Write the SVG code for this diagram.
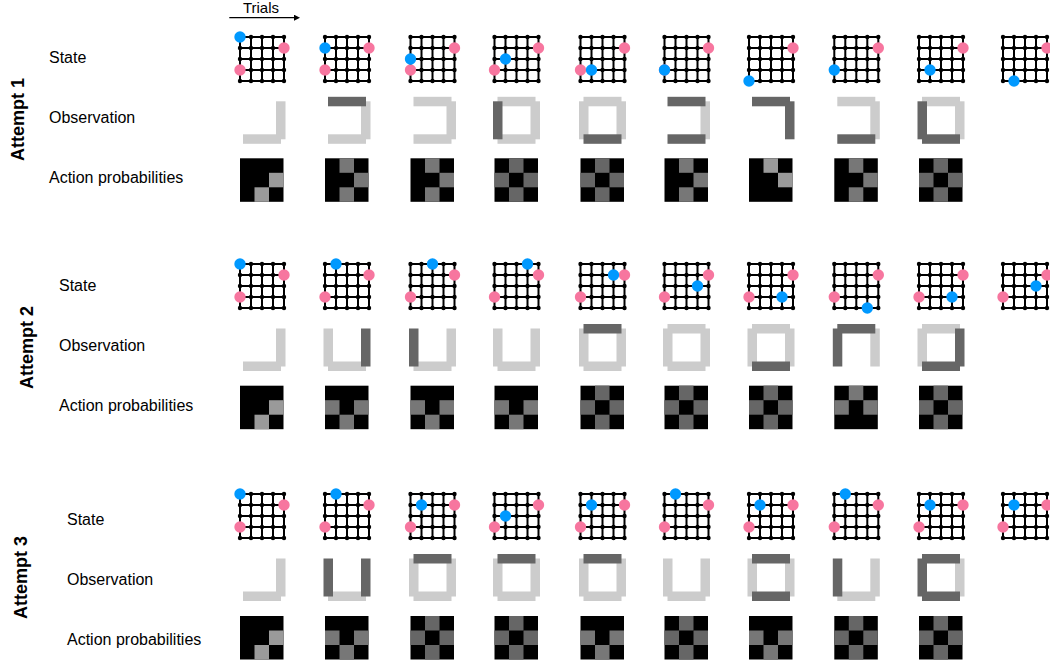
<svg xmlns="http://www.w3.org/2000/svg" xmlns:xlink="http://www.w3.org/1999/xlink" width="1050" height="669" viewBox="0 0 1050 669">
<style>
text{font-family:"Liberation Sans",Arial,sans-serif;fill:#000}
.lbl{font-size:16px}
.att{font-size:18px;font-weight:bold}
.b{fill:#0099ff}
.p{fill:#f7769f}
.ol{fill:#cccccc}
.od{fill:#666666}
.g2{fill:#9a9a9a}
.g3{fill:#777777}
.g4{fill:#666666}
</style>
<defs>
<marker id="arr" markerUnits="userSpaceOnUse" markerWidth="7" markerHeight="7" refX="0" refY="3" orient="auto"><path d="M0,0 L6,3 L0,6 z" fill="#000"/></marker>
<g id="lat">
<path d="M0 0H44M0 11H44M0 22H44M0 33H44M0 44H44M0 0V44M11 0V44M22 0V44M33 0V44M44 0V44" stroke="#000" stroke-width="2" fill="none"/>
<g fill="#000">
<circle cx="0" cy="0" r="2.2"/><circle cx="11" cy="0" r="2.2"/><circle cx="22" cy="0" r="2.2"/><circle cx="33" cy="0" r="2.2"/><circle cx="44" cy="0" r="2.2"/>
<circle cx="0" cy="11" r="2.2"/><circle cx="11" cy="11" r="2.2"/><circle cx="22" cy="11" r="2.2"/><circle cx="33" cy="11" r="2.2"/><circle cx="44" cy="11" r="2.2"/>
<circle cx="0" cy="22" r="2.2"/><circle cx="11" cy="22" r="2.2"/><circle cx="22" cy="22" r="2.2"/><circle cx="33" cy="22" r="2.2"/><circle cx="44" cy="22" r="2.2"/>
<circle cx="0" cy="33" r="2.2"/><circle cx="11" cy="33" r="2.2"/><circle cx="22" cy="33" r="2.2"/><circle cx="33" cy="33" r="2.2"/><circle cx="44" cy="33" r="2.2"/>
<circle cx="0" cy="44" r="2.2"/><circle cx="11" cy="44" r="2.2"/><circle cx="22" cy="44" r="2.2"/><circle cx="33" cy="44" r="2.2"/><circle cx="44" cy="44" r="2.2"/>
</g>
</g>
<g id="st2"><use xlink:href="#lat"/><circle class="p" cx="44" cy="11" r="5.7"/><circle class="p" cx="0" cy="33" r="5.7"/></g>
<g id="st1"><use xlink:href="#lat"/><circle class="p" cx="44" cy="11" r="5.7"/></g>
<rect id="bT" x="-19" y="-23.5" width="38" height="9.5"/>
<rect id="bB" x="-19" y="14" width="38" height="9.5"/>
<rect id="bL" x="-23.5" y="-19" width="9.5" height="38"/>
<rect id="bR" x="14" y="-19" width="9.5" height="38"/>
<rect id="ablk" width="43.5" height="43.5" fill="#000"/>
<g id="aCorner"><use xlink:href="#ablk"/><rect class="g2" x="29" y="14.5" width="14.5" height="14.5"/><rect class="g2" x="14.5" y="29" width="14.5" height="14.5"/></g>
<g id="aK"><use xlink:href="#ablk"/><rect class="g3" x="14.5" y="0" width="14.5" height="14.5"/><rect class="g3" x="29" y="14.5" width="14.5" height="14.5"/><rect class="g3" x="14.5" y="29" width="14.5" height="14.5"/></g>
<g id="aChk"><use xlink:href="#ablk"/><rect class="g4" x="14.5" y="0" width="14.5" height="14.5"/><rect class="g4" x="0" y="14.5" width="14.5" height="14.5"/><rect class="g4" x="29" y="14.5" width="14.5" height="14.5"/><rect class="g4" x="14.5" y="29" width="14.5" height="14.5"/></g>
<g id="aK2"><use xlink:href="#ablk"/><rect class="g2" x="14.5" y="0" width="14.5" height="14.5"/><rect class="g2" x="29" y="14.5" width="14.5" height="14.5"/></g>
<g id="aT"><use xlink:href="#ablk"/><rect class="g3" x="0" y="14.5" width="14.5" height="14.5"/><rect class="g3" x="29" y="14.5" width="14.5" height="14.5"/><rect class="g3" x="14.5" y="29" width="14.5" height="14.5"/></g>
<g id="aN"><use xlink:href="#ablk"/><rect class="g3" x="14.5" y="0" width="14.5" height="14.5"/><rect class="g3" x="0" y="14.5" width="14.5" height="14.5"/><rect class="g3" x="29" y="14.5" width="14.5" height="14.5"/></g>
</defs>
<rect width="1050" height="669" fill="#fff"/>

<g id="connectors">
<line x1="229.3" y1="17.7" x2="294" y2="17.7" stroke="#000" stroke-width="1.3" marker-end="url(#arr)"/>
</g>
<g id="trials-label"><text x="261" y="13" font-size="15" text-anchor="middle">Trials</text></g>

<g id="labels">
<text class="att" transform="translate(24,119.5) rotate(-90)" text-anchor="middle">Attempt 1</text>
<text class="lbl" x="49" y="63">State</text>
<text class="lbl" x="49" y="123">Observation</text>
<text class="lbl" x="49" y="183">Action probabilities</text>
<text class="att" transform="translate(33,347.5) rotate(-90)" text-anchor="middle">Attempt 2</text>
<text class="lbl" x="59" y="291">State</text>
<text class="lbl" x="59" y="351">Observation</text>
<text class="lbl" x="59" y="411">Action probabilities</text>
<text class="att" transform="translate(27,577.5) rotate(-90)" text-anchor="middle">Attempt 3</text>
<text class="lbl" x="67" y="525">State</text>
<text class="lbl" x="67" y="585">Observation</text>
<text class="lbl" x="67" y="645">Action probabilities</text>
</g>

<!-- Attempt 1 states -->
<g id="a1-state">
<g id="a1-s1" transform="translate(240,37)"><use xlink:href="#st2"/><circle class="b" cx="0" cy="0" r="5.7"/></g>
<g id="a1-s2" transform="translate(325,37)"><use xlink:href="#st2"/><circle class="b" cx="0" cy="11" r="5.7"/></g>
<g id="a1-s3" transform="translate(410.5,37)"><use xlink:href="#st2"/><circle class="b" cx="0" cy="22" r="5.7"/></g>
<g id="a1-s4" transform="translate(494.5,37)"><use xlink:href="#st2"/><circle class="b" cx="11" cy="22" r="5.7"/></g>
<g id="a1-s5" transform="translate(580.5,37)"><use xlink:href="#st2"/><circle class="b" cx="11" cy="33" r="5.7"/></g>
<g id="a1-s6" transform="translate(664.5,37)"><use xlink:href="#st2"/><circle class="b" cx="0" cy="33" r="5.7"/></g>
<g id="a1-s7" transform="translate(749,37)"><use xlink:href="#st1"/><circle class="b" cx="0" cy="44" r="5.7"/></g>
<g id="a1-s8" transform="translate(834.3,37)"><use xlink:href="#st1"/><circle class="b" cx="0" cy="33" r="5.7"/></g>
<g id="a1-s9" transform="translate(919,37)"><use xlink:href="#st1"/><circle class="b" cx="11" cy="33" r="5.7"/></g>
<g id="a1-s10" transform="translate(1003,37)"><use xlink:href="#st1"/><circle class="b" cx="11" cy="44" r="5.7"/></g>
</g>
<!-- Attempt 1 observations -->
<g id="a1-obs">
<g id="a1-o1" transform="translate(262,120.3)"><use xlink:href="#bR" class="ol"/><use xlink:href="#bB" class="ol"/></g>
<g id="a1-o2" transform="translate(347,120.3)"><use xlink:href="#bR" class="ol"/><use xlink:href="#bB" class="ol"/><use xlink:href="#bT" class="od"/></g>
<g id="a1-o3" transform="translate(432.5,120.3)"><use xlink:href="#bT" class="ol"/><use xlink:href="#bR" class="ol"/><use xlink:href="#bB" class="ol"/></g>
<g id="a1-o4" transform="translate(516.5,120.3)"><use xlink:href="#bT" class="ol"/><use xlink:href="#bR" class="ol"/><use xlink:href="#bB" class="ol"/><use xlink:href="#bL" class="od"/></g>
<g id="a1-o5" transform="translate(602.5,120.3)"><use xlink:href="#bT" class="ol"/><use xlink:href="#bR" class="ol"/><use xlink:href="#bL" class="ol"/><use xlink:href="#bB" class="od"/></g>
<g id="a1-o6" transform="translate(686.5,120.3)"><use xlink:href="#bR" class="ol"/><use xlink:href="#bT" class="od"/><use xlink:href="#bB" class="od"/></g>
<g id="a1-o7" transform="translate(771,120.3)"><use xlink:href="#bT" class="od"/><use xlink:href="#bR" class="od"/></g>
<g id="a1-o8" transform="translate(856.3,120.3)"><use xlink:href="#bT" class="ol"/><use xlink:href="#bR" class="ol"/><use xlink:href="#bB" class="od"/></g>
<g id="a1-o9" transform="translate(941,120.3)"><use xlink:href="#bT" class="ol"/><use xlink:href="#bR" class="ol"/><use xlink:href="#bB" class="od"/><use xlink:href="#bL" class="od"/></g>
</g>
<!-- Attempt 1 actions -->
<g id="a1-act">
<g id="a1-a1" transform="translate(240,158.3)"><use xlink:href="#aCorner"/></g>
<g id="a1-a2" transform="translate(325,158.3)"><use xlink:href="#aK"/></g>
<g id="a1-a3" transform="translate(410.5,158.3)"><use xlink:href="#aK"/></g>
<g id="a1-a4" transform="translate(494.5,158.3)"><use xlink:href="#aChk"/></g>
<g id="a1-a5" transform="translate(580.5,158.3)"><use xlink:href="#aChk"/></g>
<g id="a1-a6" transform="translate(664.5,158.3)"><use xlink:href="#aK"/></g>
<g id="a1-a7" transform="translate(749,158.3)"><use xlink:href="#aK2"/></g>
<g id="a1-a8" transform="translate(834.3,158.3)"><use xlink:href="#aK"/></g>
<g id="a1-a9" transform="translate(919,158.3)"><use xlink:href="#aChk"/></g>
</g>

<!-- Attempt 2 states -->
<g id="a2-state">
<g id="a2-s1" transform="translate(240,264)"><use xlink:href="#st2"/><circle class="b" cx="0" cy="0" r="5.7"/></g>
<g id="a2-s2" transform="translate(325,264)"><use xlink:href="#st2"/><circle class="b" cx="11" cy="0" r="5.7"/></g>
<g id="a2-s3" transform="translate(410.5,264)"><use xlink:href="#st2"/><circle class="b" cx="22" cy="0" r="5.7"/></g>
<g id="a2-s4" transform="translate(494.5,264)"><use xlink:href="#st2"/><circle class="b" cx="33" cy="0" r="5.7"/></g>
<g id="a2-s5" transform="translate(580.5,264)"><use xlink:href="#st2"/><circle class="b" cx="33" cy="11" r="5.7"/></g>
<g id="a2-s6" transform="translate(664.5,264)"><use xlink:href="#st2"/><circle class="b" cx="33" cy="22" r="5.7"/></g>
<g id="a2-s7" transform="translate(749,264)"><use xlink:href="#st2"/><circle class="b" cx="33" cy="33" r="5.7"/></g>
<g id="a2-s8" transform="translate(834.3,264)"><use xlink:href="#st2"/><circle class="b" cx="33" cy="44" r="5.7"/></g>
<g id="a2-s9" transform="translate(919,264)"><use xlink:href="#st2"/><circle class="b" cx="33" cy="33" r="5.7"/></g>
<g id="a2-s10" transform="translate(1003,264)"><use xlink:href="#st2"/><circle class="b" cx="33" cy="22" r="5.7"/></g>
</g>
<!-- Attempt 2 observations -->
<g id="a2-obs">
<g id="a2-o1" transform="translate(262,347.5)"><use xlink:href="#bR" class="ol"/><use xlink:href="#bB" class="ol"/></g>
<g id="a2-o2" transform="translate(347,347.5)"><use xlink:href="#bL" class="ol"/><use xlink:href="#bB" class="ol"/><use xlink:href="#bR" class="od"/></g>
<g id="a2-o3" transform="translate(432.5,347.5)"><use xlink:href="#bR" class="ol"/><use xlink:href="#bB" class="ol"/><use xlink:href="#bL" class="od"/></g>
<g id="a2-o4" transform="translate(516.5,347.5)"><use xlink:href="#bL" class="ol"/><use xlink:href="#bR" class="ol"/><use xlink:href="#bB" class="ol"/></g>
<g id="a2-o5" transform="translate(602.5,347.5)"><use xlink:href="#bL" class="ol"/><use xlink:href="#bR" class="ol"/><use xlink:href="#bB" class="ol"/><use xlink:href="#bT" class="od"/></g>
<g id="a2-o6" transform="translate(686.5,347.5)"><use xlink:href="#bT" class="ol"/><use xlink:href="#bL" class="ol"/><use xlink:href="#bR" class="ol"/><use xlink:href="#bB" class="ol"/></g>
<g id="a2-o7" transform="translate(771,347.5)"><use xlink:href="#bT" class="ol"/><use xlink:href="#bL" class="ol"/><use xlink:href="#bR" class="ol"/><use xlink:href="#bB" class="od"/></g>
<g id="a2-o8" transform="translate(856.3,347.5)"><use xlink:href="#bR" class="ol"/><use xlink:href="#bT" class="od"/><use xlink:href="#bL" class="od"/></g>
<g id="a2-o9" transform="translate(941,347.5)"><use xlink:href="#bT" class="ol"/><use xlink:href="#bL" class="ol"/><use xlink:href="#bR" class="od"/><use xlink:href="#bB" class="od"/></g>
</g>
<!-- Attempt 2 actions -->
<g id="a2-act">
<g id="a2-a1" transform="translate(240,385.7)"><use xlink:href="#aCorner"/></g>
<g id="a2-a2" transform="translate(325,385.7)"><use xlink:href="#aT"/></g>
<g id="a2-a3" transform="translate(410.5,385.7)"><use xlink:href="#aT"/></g>
<g id="a2-a4" transform="translate(494.5,385.7)"><use xlink:href="#aT"/></g>
<g id="a2-a5" transform="translate(580.5,385.7)"><use xlink:href="#aChk"/></g>
<g id="a2-a6" transform="translate(664.5,385.7)"><use xlink:href="#aChk"/></g>
<g id="a2-a7" transform="translate(749,385.7)"><use xlink:href="#aChk"/></g>
<g id="a2-a8" transform="translate(834.3,385.7)"><use xlink:href="#aN"/></g>
<g id="a2-a9" transform="translate(919,385.7)"><use xlink:href="#aChk"/></g>
</g>

<!-- Attempt 3 states -->
<g id="a3-state">
<g id="a3-s1" transform="translate(240,494)"><use xlink:href="#st2"/><circle class="b" cx="0" cy="0" r="5.7"/></g>
<g id="a3-s2" transform="translate(325,494)"><use xlink:href="#st2"/><circle class="b" cx="11" cy="0" r="5.7"/></g>
<g id="a3-s3" transform="translate(410.5,494)"><use xlink:href="#st2"/><circle class="b" cx="11" cy="11" r="5.7"/></g>
<g id="a3-s4" transform="translate(494.5,494)"><use xlink:href="#st2"/><circle class="b" cx="11" cy="22" r="5.7"/></g>
<g id="a3-s5" transform="translate(580.5,494)"><use xlink:href="#st2"/><circle class="b" cx="11" cy="11" r="5.7"/></g>
<g id="a3-s6" transform="translate(664.5,494)"><use xlink:href="#st2"/><circle class="b" cx="11" cy="0" r="5.7"/></g>
<g id="a3-s7" transform="translate(749,494)"><use xlink:href="#st2"/><circle class="b" cx="11" cy="11" r="5.7"/></g>
<g id="a3-s8" transform="translate(834.3,494)"><use xlink:href="#st2"/><circle class="b" cx="11" cy="0" r="5.7"/></g>
<g id="a3-s9" transform="translate(919,494)"><use xlink:href="#st2"/><circle class="b" cx="11" cy="11" r="5.7"/></g>
<g id="a3-s10" transform="translate(1003,494)"><use xlink:href="#st2"/><circle class="b" cx="11" cy="11" r="5.7"/></g>
</g>
<!-- Attempt 3 observations -->
<g id="a3-obs">
<g id="a3-o1" transform="translate(262,577.5)"><use xlink:href="#bR" class="ol"/><use xlink:href="#bB" class="ol"/></g>
<g id="a3-o2" transform="translate(347,577.5)"><use xlink:href="#bB" class="ol"/><use xlink:href="#bL" class="od"/><use xlink:href="#bR" class="od"/></g>
<g id="a3-o3" transform="translate(432.5,577.5)"><use xlink:href="#bL" class="ol"/><use xlink:href="#bR" class="ol"/><use xlink:href="#bB" class="ol"/><use xlink:href="#bT" class="od"/></g>
<g id="a3-o4" transform="translate(516.5,577.5)"><use xlink:href="#bL" class="ol"/><use xlink:href="#bR" class="ol"/><use xlink:href="#bB" class="ol"/><use xlink:href="#bT" class="od"/></g>
<g id="a3-o5" transform="translate(602.5,577.5)"><use xlink:href="#bL" class="ol"/><use xlink:href="#bR" class="ol"/><use xlink:href="#bB" class="ol"/><use xlink:href="#bT" class="od"/></g>
<g id="a3-o6" transform="translate(686.5,577.5)"><use xlink:href="#bL" class="ol"/><use xlink:href="#bR" class="ol"/><use xlink:href="#bB" class="ol"/></g>
<g id="a3-o7" transform="translate(771,577.5)"><use xlink:href="#bL" class="ol"/><use xlink:href="#bR" class="ol"/><use xlink:href="#bT" class="od"/><use xlink:href="#bB" class="od"/></g>
<g id="a3-o8" transform="translate(856.3,577.5)"><use xlink:href="#bR" class="ol"/><use xlink:href="#bB" class="ol"/><use xlink:href="#bL" class="od"/></g>
<g id="a3-o9" transform="translate(941,577.5)"><use xlink:href="#bR" class="ol"/><use xlink:href="#bT" class="od"/><use xlink:href="#bL" class="od"/><use xlink:href="#bB" class="od"/></g>
</g>
<!-- Attempt 3 actions -->
<g id="a3-act">
<g id="a3-a1" transform="translate(240,616)"><use xlink:href="#aCorner"/></g>
<g id="a3-a2" transform="translate(325,616)"><use xlink:href="#aT"/></g>
<g id="a3-a3" transform="translate(410.5,616)"><use xlink:href="#aChk"/></g>
<g id="a3-a4" transform="translate(494.5,616)"><use xlink:href="#aChk"/></g>
<g id="a3-a5" transform="translate(580.5,616)"><use xlink:href="#aT"/></g>
<g id="a3-a6" transform="translate(664.5,616)"><use xlink:href="#aChk"/></g>
<g id="a3-a7" transform="translate(749,616)"><use xlink:href="#aT"/></g>
<g id="a3-a8" transform="translate(834.3,616)"><use xlink:href="#aChk"/></g>
<g id="a3-a9" transform="translate(919,616)"><use xlink:href="#aChk"/></g>
</g>
</svg>
